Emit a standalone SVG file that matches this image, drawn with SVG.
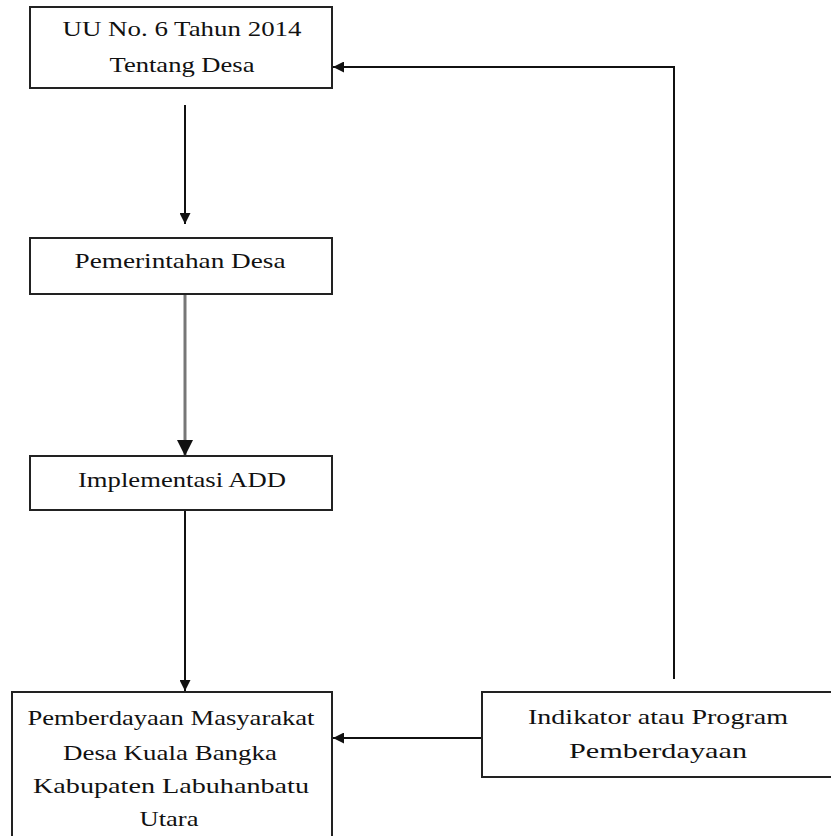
<svg xmlns="http://www.w3.org/2000/svg" width="831" height="836" viewBox="0 0 831 836">
<style>
.box{fill:#fff;stroke:#222;stroke-width:2}
.t{font-family:"Liberation Serif","Times New Roman",serif;font-size:22px;fill:#111;text-anchor:middle}
.c{fill:none;stroke:#111;stroke-width:2}
.g{stroke:#777;stroke-width:3}
</style>
<defs>
<marker id="ah" viewBox="0 0 10 10" refX="10" refY="5" markerWidth="5.5" markerHeight="5.5" markerUnits="strokeWidth" orient="auto">
<path d="M0,0 L10,5 L0,10 z" fill="#111"/>
</marker>
</defs>
<g id="connectors">
<line class="c" x1="185" y1="105" x2="185" y2="224" marker-end="url(#ah)"/>
<line class="c g" x1="185" y1="295" x2="185" y2="456" marker-end="url(#ah)"/>
<line class="c" x1="185" y1="511" x2="185" y2="691" marker-end="url(#ah)"/>
<path class="c" d="M674,679 L674,67 L333,67" marker-end="url(#ah)"/>
<line class="c" x1="482" y1="738" x2="333" y2="738" marker-end="url(#ah)"/>
</g>
<g id="n1">
<rect class="box" x="30" y="7" width="302" height="81"/>
<text class="t" x="182" y="36" textLength="239" lengthAdjust="spacingAndGlyphs">UU No. 6 Tahun 2014</text>
<text class="t" x="182" y="72" textLength="145" lengthAdjust="spacingAndGlyphs">Tentang Desa</text>
</g>
<g id="n2">
<rect class="box" x="30" y="238" width="302" height="56"/>
<text class="t" x="180" y="268" textLength="211" lengthAdjust="spacingAndGlyphs">Pemerintahan Desa</text>
</g>
<g id="n3">
<rect class="box" x="30" y="456" width="302" height="54"/>
<text class="t" x="182" y="487" textLength="208" lengthAdjust="spacingAndGlyphs">Implementasi ADD</text>
</g>
<g id="n4">
<rect class="box" x="12" y="692" width="320" height="150"/>
<text class="t" x="171" y="725" textLength="287" lengthAdjust="spacingAndGlyphs">Pemberdayaan Masyarakat</text>
<text class="t" x="170" y="760" textLength="214" lengthAdjust="spacingAndGlyphs">Desa Kuala Bangka</text>
<text class="t" x="171" y="793" textLength="276" lengthAdjust="spacingAndGlyphs">Kabupaten Labuhanbatu</text>
<text class="t" x="169" y="826" textLength="59" lengthAdjust="spacingAndGlyphs">Utara</text>
</g>
<g id="n5">
<rect class="box" x="482" y="692" width="360" height="85"/>
<text class="t" x="658" y="724" textLength="260" lengthAdjust="spacingAndGlyphs">Indikator atau Program</text>
<text class="t" x="658" y="758" textLength="178" lengthAdjust="spacingAndGlyphs">Pemberdayaan</text>
</g>
</svg>
